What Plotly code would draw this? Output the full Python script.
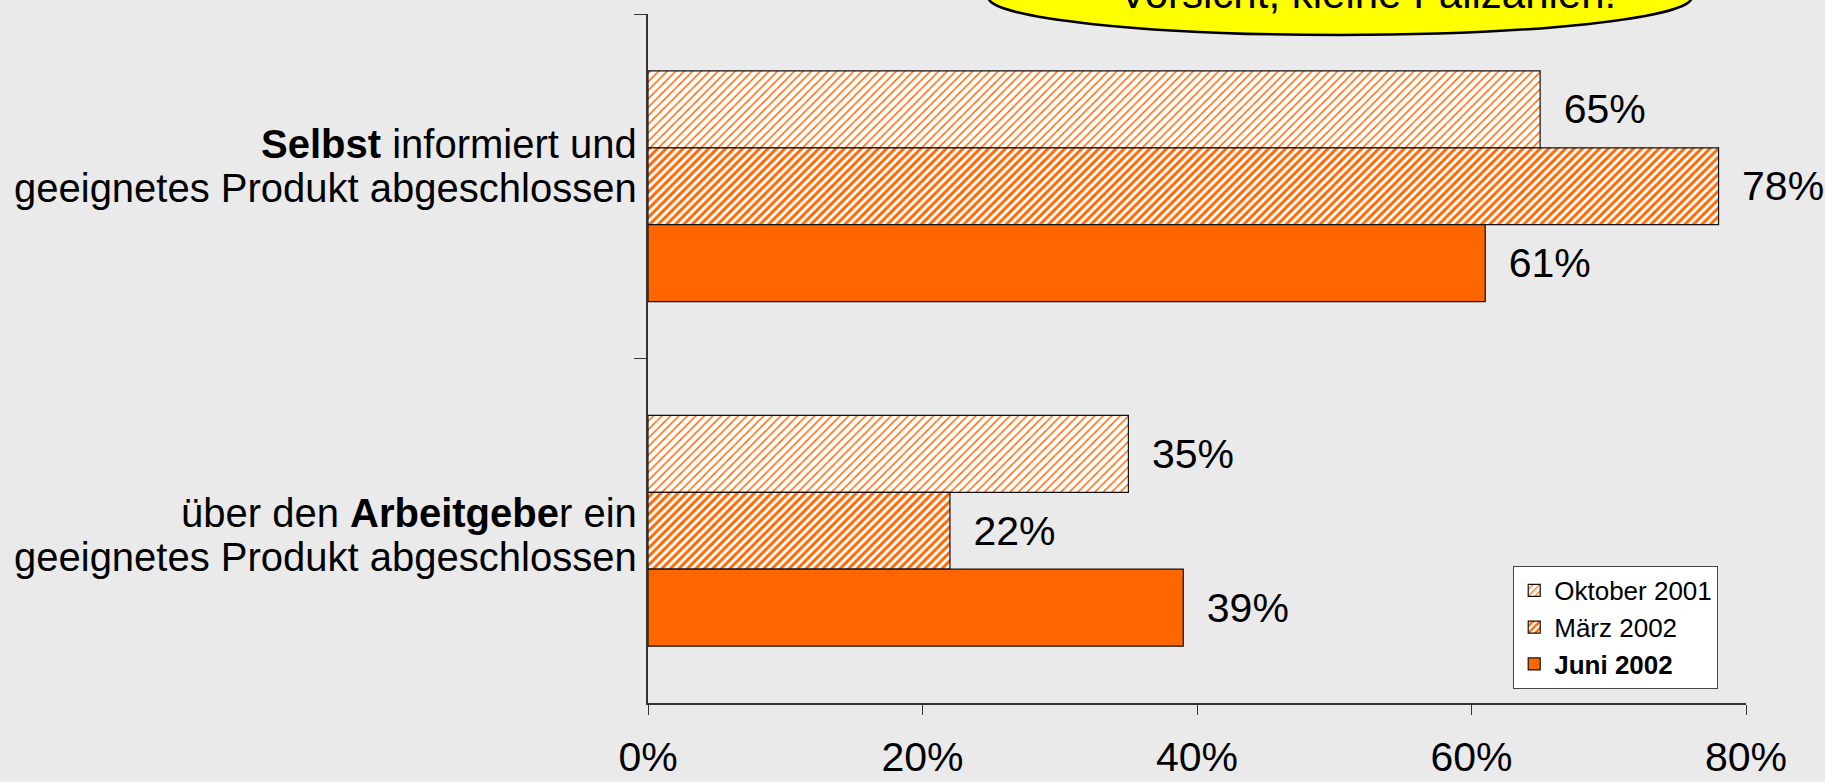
import plotly.graph_objects as go

categories = ["Selbst", "Arbeitgeber"]
category_lines = [
    ["<b>Selbst</b> informiert und", "geeignetes Produkt abgeschlossen"],
    ["über den <b>Arbeitgebe</b>r ein", "geeignetes Produkt abgeschlossen"],
]
series_names = ["Oktober 2001", "März 2002", "<b>Juni 2002</b>"]
oktober_2001 = [65, 35]
maerz_2002 = [78, 22]
juni_2002 = [61, 39]
x_tickvals = [0, 20, 40, 60, 80]
x_ticktext = ["0%", "20%", "40%", "60%", "80%"]
callout_text = "Vorsicht, kleine Fallzahlen!"

FONT = "Liberation Sans, Arial, sans-serif"
ORANGE = "#FF6600"
BG = "#EAEAEA"

styles = [
    dict(shape="/", fgcolor=ORANGE, bgcolor="white", size=6, solidity=0.25, fgopacity=1),
    dict(shape="/", fgcolor=ORANGE, bgcolor="white", size=6, solidity=0.5, fgopacity=1),
    dict(shape=""),
]

fig = go.Figure()
for name, vals, pat in zip(series_names, [oktober_2001, maerz_2002, juni_2002], styles):
    fig.add_trace(go.Bar(
        y=categories, x=vals, name=name, orientation="h",
        marker=dict(color=ORANGE, line=dict(color="#111111", width=1.2), pattern=pat),
        texttemplate="\u2002%{x}%", textposition="outside",
        textfont=dict(family=FONT, size=41, color="black"),
        cliponaxis=False, constraintext="none",
    ))

# category labels (two tightly spaced lines each)
label_offsets = [20, -4]
for cat, lines, off in zip(categories, category_lines, label_offsets):
    for i, line in enumerate(lines):
        fig.add_annotation(text=line, xref="paper", yref="y", x=0, y=cat,
                           xanchor="right", yanchor="middle", xshift=-9,
                           yshift=off + (22 if i == 0 else -22), showarrow=False,
                           font=dict(family=FONT, size=40, color="black"))

fig.add_shape(type="circle", xref="paper", yref="paper",
              x0=0.3097, x1=0.9508, y0=0.9695, y1=1.0798,
              fillcolor="#FFFF00", line=dict(color="black", width=2.5), layer="above")
fig.add_annotation(text=callout_text, xref="paper", yref="paper", x=0.655, y=1.03,
                   xanchor="center", yanchor="middle", showarrow=False,
                   font=dict(family=FONT, size=42, color="black"))

fig.update_layout(
    width=1825, height=782,
    margin=dict(l=648, r=79, t=14, b=79),
    paper_bgcolor=BG, plot_bgcolor=BG,
    barmode="group", bargap=0.33, bargroupgap=0,
    font=dict(family=FONT, size=41, color="black"),
    showlegend=True,
    legend=dict(x=0.788, y=0.199, xanchor="left", yanchor="top",
                bgcolor="white", bordercolor="#444444", borderwidth=1,
                entrywidth=178, entrywidthmode="pixels",
                font=dict(family=FONT, size=26, color="black")),
    xaxis=dict(range=[0, 80], tickvals=x_tickvals, ticktext=x_ticktext, automargin=False,
               showgrid=False, zeroline=False, showline=True, linecolor="#333333", linewidth=1.5,
               ticks="outside", ticklen=10, tickcolor="#333333",
               ticklabelstandoff=7, tickfont=dict(size=41)),
    yaxis=dict(type="category", categoryorder="array", categoryarray=categories,
               range=[1.5, -0.5], tickson="boundaries", showgrid=False, zeroline=False,
               automargin=False, showticklabels=False,
               showline=True, linecolor="#333333", linewidth=1.5,
               ticks="outside", ticklen=12, tickcolor="#333333"),
)

fig.write_html("out.html", config={"displayModeBar": False},
               post_script="document.body.style.margin='0';document.body.style.overflow='hidden';")
